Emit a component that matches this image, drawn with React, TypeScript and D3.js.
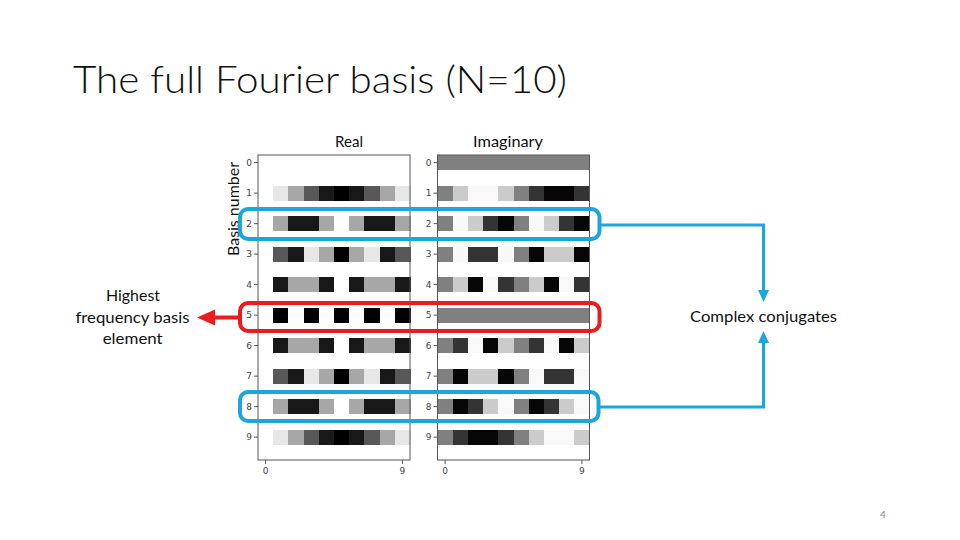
import React from "react";
import * as d3 from "d3";

// basis numbers (rows) and sample index (columns)
const basisNumbers = [0, 1, 2, 3, 4, 5, 6, 7, 8, 9];
const sampleIndex = [0, 1, 2, 3, 4, 5, 6, 7, 8, 9];
const xTicks = [0, 9];

const realRows = [
  [1, 1, 1, 1, 1, 1, 1, 1, 1, 1],
  [1, 0.81, 0.31, -0.31, -0.81, -1, -0.81, -0.31, 0.31, 0.81],
  [1, 0.31, -0.81, -0.81, 0.31, 1, 0.31, -0.81, -0.81, 0.31],
  [1, -0.31, -0.81, 0.81, 0.31, -1, 0.31, 0.81, -0.81, -0.31],
  [1, -0.81, 0.31, 0.31, -0.81, 1, -0.81, 0.31, 0.31, -0.81],
  [1, -1, 1, -1, 1, -1, 1, -1, 1, -1],
  [1, -0.81, 0.31, 0.31, -0.81, 1, -0.81, 0.31, 0.31, -0.81],
  [1, -0.31, -0.81, 0.81, 0.31, -1, 0.31, 0.81, -0.81, -0.31],
  [1, 0.31, -0.81, -0.81, 0.31, 1, 0.31, -0.81, -0.81, 0.31],
  [1, 0.81, 0.31, -0.31, -0.81, -1, -0.81, -0.31, 0.31, 0.81],
];

// imaginary part of each basis element
const imagRows = [
  [0, 0, 0, 0, 0, 0, 0, 0, 0, 0],
  [0, 0.59, 0.95, 0.95, 0.59, 0, -0.59, -0.95, -0.95, -0.59],
  [0, 0.95, 0.59, -0.59, -0.95, 0, 0.95, 0.59, -0.59, -0.95],
  [0, 0.95, -0.59, -0.59, 0.95, 0, -0.95, 0.59, 0.59, -0.95],
  [0, 0.59, -0.95, 0.95, -0.59, 0, 0.59, -0.95, 0.95, -0.59],
  [0, 0, 0, 0, 0, 0, 0, 0, 0, 0],
  [0, -0.59, 0.95, -0.95, 0.59, 0, -0.59, 0.95, -0.95, 0.59],
  [0, -0.95, 0.59, 0.59, -0.95, 0, 0.95, -0.59, -0.59, 0.95],
  [0, -0.95, -0.59, 0.59, 0.95, 0, -0.95, -0.59, 0.59, 0.95],
  [0, -0.59, -0.95, -0.95, -0.59, 0, 0.59, 0.95, 0.95, 0.59],
];

const FONT = "Lato, 'Open Sans', sans-serif";
const TICKFONT = "'DejaVu Sans', sans-serif";
const BLUE = "#1ba6de";
const RED = "#ea1c1c";

const top = 155;
const bottom = 460;

const gray = d3.scaleLinear<string>().domain([-1, 1]).range(["#000000", "#ffffff"]);

function Panel(props: { x0: number; x1: number; rows: number[][] }) {
  const { x0, x1, rows } = props;
  const x = d3.scaleBand<number>().domain(sampleIndex).range([x0, x1]);
  const y = d3.scaleBand<number>().domain(basisNumbers).range([top, bottom]);
  const h = y.bandwidth() / 2;
  return (
    <g>
      <g shapeRendering="crispEdges">
        {rows.map((row, k) =>
          row.map((v, n) => (
            <rect
              key={k + "-" + n}
              x={x(n)}
              y={y(basisNumbers[k])}
              width={x.bandwidth() + 0.6}
              height={h}
              fill={gray(v)}
            />
          ))
        )}
      </g>
      <rect x={x0} y={top} width={x1 - x0} height={bottom - top} fill="none" stroke="#555" strokeWidth={1} />
      {basisNumbers.map((b) => {
        const cy = (y(b) as number) + h / 2;
        return (
          <g key={b}>
            <line x1={x0 - 4} x2={x0} y1={cy} y2={cy} stroke="#555" />
            <text x={x0 - 6} y={cy + 3.3} fontSize={9} fontFamily={TICKFONT} fill="#444" textAnchor="end">
              {b}
            </text>
          </g>
        );
      })}
      {xTicks.map((t) => {
        const cx = (x(t) as number) + x.bandwidth() / 2;
        return (
          <g key={t}>
            <line x1={cx} x2={cx} y1={bottom} y2={bottom + 4} stroke="#555" />
            <text x={cx} y={bottom + 14} fontSize={9} fontFamily={TICKFONT} fill="#444" textAnchor="middle">
              {t}
            </text>
          </g>
        );
      })}
    </g>
  );
}

export default function App() {
  return (
    <svg width={960} height={540} style={{ position: "absolute", left: 0, top: 0, background: "#fff" }}>
      <rect width={960} height={540} fill="#fff" />
      <text x={73} y={93} fontSize={37} fontWeight={300} fontFamily={FONT} fill="#111" textLength={494} lengthAdjust="spacingAndGlyphs">
        The full Fourier basis (N=10)
      </text>

      <text x={349} y={147} fontSize={15} fontFamily={FONT} fill="#111" textAnchor="middle" textLength={28} lengthAdjust="spacingAndGlyphs">
        Real
      </text>
      <text x={508} y={147} fontSize={15} fontFamily={FONT} fill="#111" textAnchor="middle" textLength={70} lengthAdjust="spacingAndGlyphs">
        Imaginary
      </text>
      <text
        transform="translate(238.5,209) rotate(-90)"
        fontSize={15}
        fontFamily={FONT}
        fill="#111"
        textAnchor="middle"
        textLength={94}
        lengthAdjust="spacingAndGlyphs"
      >
        Basis number
      </text>

      <Panel x0={258} x1={410} rows={realRows} />
      <Panel x0={437.5} x1={589.5} rows={imagRows} />

      {/* highlight boxes */}
      <rect x={240} y={209} width={359.5} height={30} rx={8} fill="none" stroke={BLUE} strokeWidth={4} />
      <rect x={240} y={303} width={359.5} height={28} rx={8} fill="none" stroke={RED} strokeWidth={4} />
      <rect x={240} y={392} width={358.5} height={29} rx={8} fill="none" stroke={BLUE} strokeWidth={4} />

      {/* complex conjugate connectors */}
      <path d="M599.5,225 H763.5 V292" fill="none" stroke={BLUE} strokeWidth={3} />
      <polygon points="763.5,302 758,290 769,290" fill={BLUE} />
      <path d="M598.5,407 H763.5 V342" fill="none" stroke={BLUE} strokeWidth={3} />
      <polygon points="763.5,331 758,343 769,343" fill={BLUE} />
      <text x={763.5} y={322} fontSize={15} fontFamily={FONT} fill="#111" textAnchor="middle" textLength={147} lengthAdjust="spacingAndGlyphs">
        Complex conjugates
      </text>

      {/* highest frequency arrow */}
      <line x1={238} x2={212} y1={317.5} y2={317.5} stroke={RED} strokeWidth={4} />
      <polygon points="197,317.5 215,309.5 215,325.5" fill={RED} />
      <g fontSize={16} fontFamily={FONT} fill="#111" textAnchor="middle">
        <text x={133} y={301} textLength={54} lengthAdjust="spacingAndGlyphs">Highest</text>
        <text x={132.5} y={322.5} textLength={114} lengthAdjust="spacingAndGlyphs">frequency basis</text>
        <text x={132.7} y={343.5} textLength={60} lengthAdjust="spacingAndGlyphs">element</text>
      </g>

      <text x={883} y={518} fontSize={10} fontFamily={FONT} fill="#8a8a8a" textAnchor="middle">
        4
      </text>
    </svg>
  );
}
